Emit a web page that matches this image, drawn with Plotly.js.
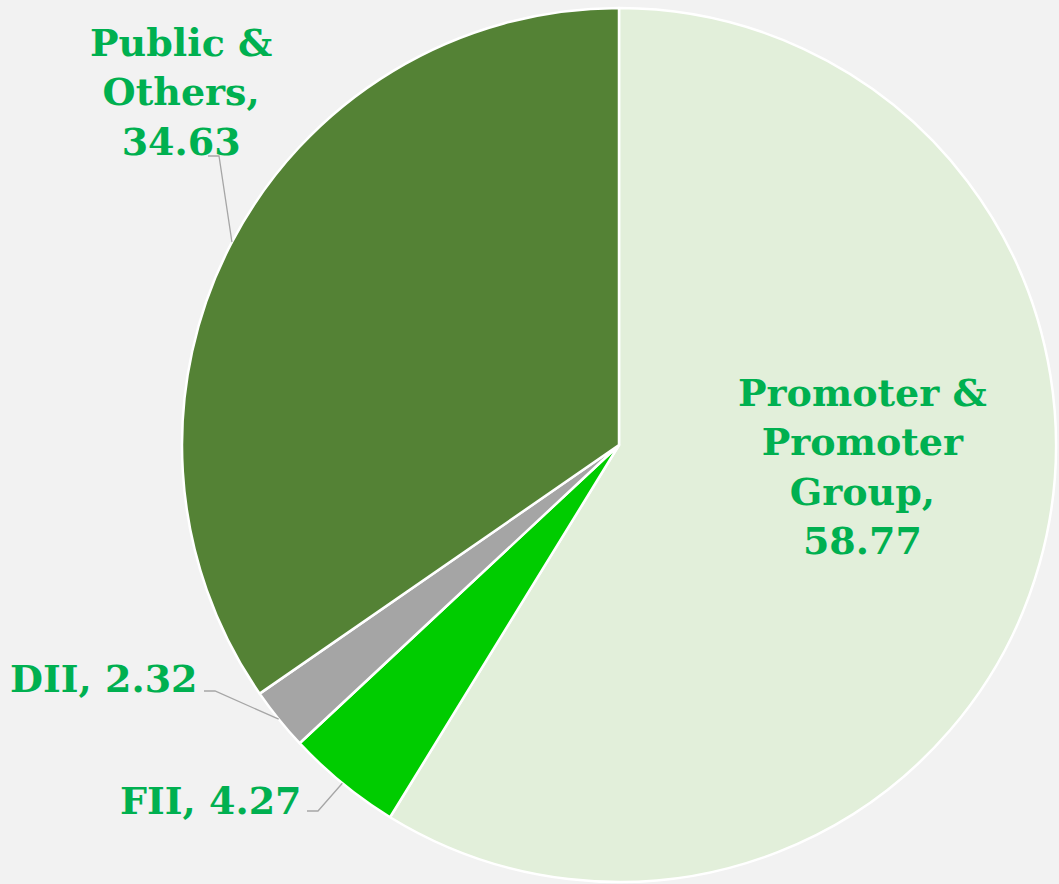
<!DOCTYPE html>
<html>
<head>
<meta charset="utf-8">
<script src="https://cdn.plot.ly/plotly-3.0.1.min.js"></script>
<style>html,body{margin:0;padding:0;background:#F2F2F2;}</style>
</head>
<body>
<div id="chart" style="width:1059px;height:884px;"></div>
<script>
// Data
const categories = ["Promoter & Promoter Group", "FII", "DII", "Public & Others"];
const labelLines = [["Promoter &", "Promoter", "Group,"], ["FII,"], ["DII,"], ["Public &", "Others,"]];
const values = [58.77, 4.27, 2.32, 34.63];
const colors = ["#E2EFDA", "#00CC00", "#A5A5A5", "#548235"];

const W = 1059, H = 884;
const cx = 619, cy = 445, R = 437;
const font = {family: "DejaVu Serif", size: 38, color: "#00B050", weight: "bold"};

// label placement (pixels)
const labelPos = [
  {x: 862, y: 466, xa: "center", inline: false, leader: false},
  {x: 304, y: 800, xa: "right", inline: true, leader: true, hx: 318, hy: 811},
  {x: 200, y: 678, xa: "right", inline: true, leader: true, hx: 215, hy: 691},
  {x: 181, y: 92, xa: "center", inline: false, leader: true, hx: 219, hy: 156}
];

const total = values.reduce((a, b) => a + b, 0);
const annotations = [];
const shapes = [];
let cum = 0;
values.forEach((v, i) => {
  const mid = (cum + v / 2) / total * 2 * Math.PI;
  cum += v;
  const p = labelPos[i];
  const txt = p.inline
    ? labelLines[i].join(" ") + " " + v.toFixed(2)
    : labelLines[i].join("<br>") + "<br>" + v.toFixed(2);
  annotations.push({
    text: txt, showarrow: false, xref: "paper", yref: "paper",
    x: p.x / W, y: 1 - p.y / H, xanchor: p.xa, yanchor: "middle",
    align: "center", font: font
  });
  if (p.leader) {
    const ex = cx + R * Math.sin(mid), ey = cy - R * Math.cos(mid);
    const sx = p.hx - 11;
    shapes.push({
      type: "path", xref: "paper", yref: "paper",
      path: `M ${sx / W} ${1 - p.hy / H} L ${p.hx / W} ${1 - p.hy / H} L ${ex / W} ${1 - ey / H}`,
      line: {color: "#A6A6A6", width: 1.3}
    });
  }
});

const trace = {
  type: "pie",
  labels: categories,
  values: values,
  sort: false,
  direction: "clockwise",
  rotation: 0,
  marker: {colors: colors, line: {color: "#FFFFFF", width: 2.5}},
  textinfo: "none",
  hoverinfo: "label+value",
  showlegend: false,
  domain: {x: [(cx - R) / W, (cx + R) / W], y: [1 - (cy + R) / H, 1 - (cy - R) / H]}
};

const layout = {
  width: W, height: H,
  margin: {l: 0, r: 0, t: 0, b: 0},
  paper_bgcolor: "#F2F2F2",
  plot_bgcolor: "#F2F2F2",
  showlegend: false,
  annotations: annotations,
  shapes: shapes
};

Plotly.newPlot("chart", [trace], layout, {displayModeBar: false, staticPlot: true});
</script>
</body>
</html>
